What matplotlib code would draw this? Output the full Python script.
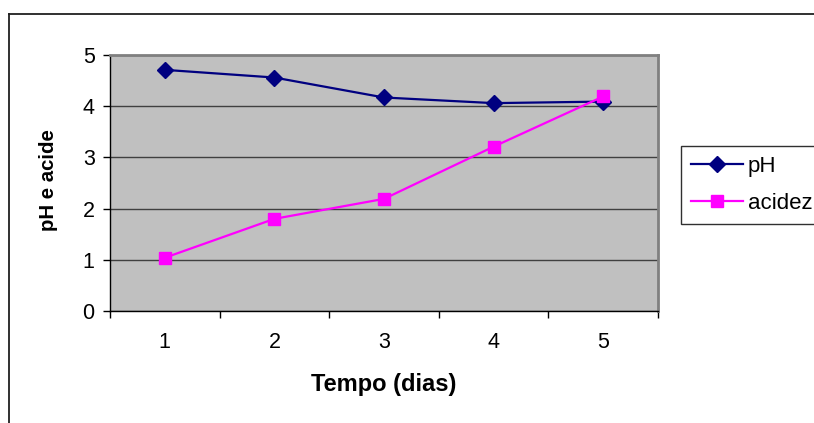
import matplotlib.pyplot as plt
from matplotlib.lines import Line2D

plt.rcParams['font.family'] = ['Liberation Sans', 'DejaVu Sans']

# Data
dias = [1, 2, 3, 4, 5]
ph = [4.71, 4.56, 4.17, 4.06, 4.09]
acidez = [1.04, 1.80, 2.19, 3.21, 4.19]

W, H = 814, 423
fig = plt.figure(figsize=(W / 100, H / 100), dpi=100)

# chart-area border (only top and left edges visible)
fig.add_artist(Line2D([9 / W, 9 / W], [0, 1 - 14 / H], color='#202020', lw=1.3))
fig.add_artist(Line2D([9 / W, 1], [1 - 14 / H, 1 - 14 / H], color='#202020', lw=1.3))

ax = fig.add_axes([110 / W, 1 - 311 / H, 548 / W, 256 / H])
ax.set_facecolor('#C0C0C0')

ax.plot(dias, ph, color='#000080', lw=1.6, marker='D', markersize=8.5,
        label='pH', zorder=3)
ax.plot(dias, acidez, color='#FF00FF', lw=1.6, marker='s', markersize=8.5,
        label='acidez', zorder=4)

ax.set_xlim(0.5, 5.5)
ax.set_ylim(0, 5)
ax.set_yticks(range(6))
ax.set_xticks(dias)
ax.set_xticks([0.5, 1.5, 2.5, 3.5, 4.5, 5.5], minor=True)
ax.tick_params(axis='x', which='major', length=0, pad=15, labelsize=15.5)
ax.tick_params(axis='x', which='minor', length=5, width=1, direction='out')
ax.tick_params(axis='y', length=5, width=1, direction='out', pad=6, labelsize=15.5)

ax.grid(axis='y', color='#404040', lw=1)
ax.set_axisbelow(True)

for s in ['left', 'bottom']:
    ax.spines[s].set_color('black')
    ax.spines[s].set_linewidth(1)
for s in ['top', 'right']:
    ax.spines[s].set_color('#808080')
    ax.spines[s].set_linewidth(2)

ax.set_xlabel('Tempo (dias)', fontsize=17, fontweight='bold', va='center')
ax.xaxis.set_label_coords(0.5, (311 - 385) / 256)
fig.text(48 / W, 1 - 180 / H, 'pH e acide', rotation=90, fontsize=14.7,
         fontweight='bold', ha='center', va='center')

leg = ax.legend(loc='upper left', bbox_to_anchor=(681 / W, 1 - 146 / H),
                bbox_transform=fig.transFigure, fontsize=16, frameon=True,
                fancybox=False, edgecolor='#303030', framealpha=1,
                handlelength=2.35, handletextpad=0.2, borderpad=0.45,
                labelspacing=0.7, borderaxespad=0)
leg.get_frame().set_linewidth(1)

plt.savefig('out.png', dpi=100)
